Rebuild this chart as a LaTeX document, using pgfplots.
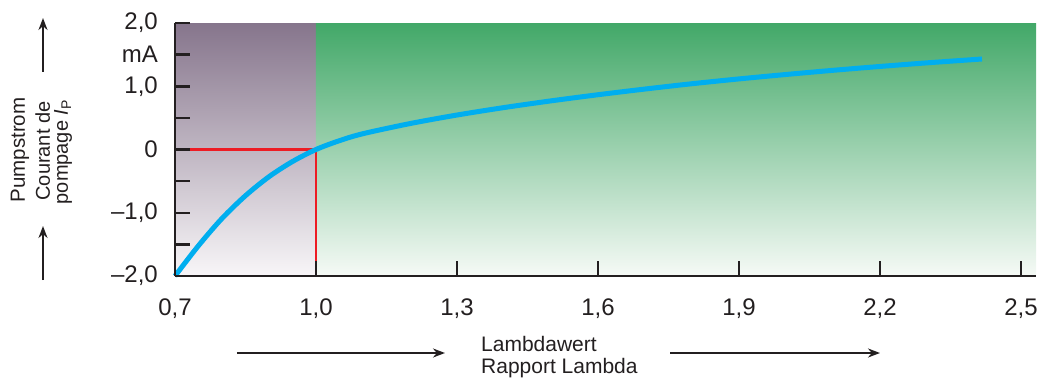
\documentclass[border=0pt]{standalone}
\usepackage{fontspec}
\setmainfont{Liberation Sans}
\usepackage{pgfplots}
\pgfplotsset{compat=1.18}
\usetikzlibrary{arrows.meta}
\definecolor{axcol}{RGB}{35,31,32}
\definecolor{curvecol}{RGB}{0,174,239}
\definecolor{redcol}{RGB}{237,28,36}
\definecolor{ptop}{RGB}{134,117,140}
\definecolor{pmid}{RGB}{195,175,198}
\definecolor{pbot}{RGB}{248,246,248}
\definecolor{gtop}{RGB}{66,168,104}
\definecolor{gmid}{RGB}{155,202,158}
\definecolor{gbot}{RGB}{246,250,246}
\begin{document}
\begin{tikzpicture}
\useasboundingbox (-175pt,-102pt) rectangle (862pt,276pt);
\begin{axis}[
  at={(0pt,0pt)}, anchor=south west,
  scale only axis, width=861pt, height=253pt,
  xmin=0.7, xmax=2.532, ymin=-2, ymax=2,
  enlargelimits=false, clip=false,
  axis x line*=bottom, axis y line*=left,
  axis on top,
  tick align=inside,
  major tick length=15pt,
  tick style={line width=2.5pt, color=axcol},
  axis line style={line width=2.5pt, color=axcol},
  xtick={0.7,1.0,1.3,1.6,1.9,2.2,2.5},
  xticklabels={{0,7},{1,0},{1,3},{1,6},{1,9},{2,2},{2,5}},
  ytick={-2,-1.5,-1,-0.5,0,0.5,1,1.5,2},
  yticklabels={{–2,0},{},{–1,0},{},{0},{},{1,0},{mA},{2,0}},
  ticklabel style={font=\fontsize{24}{28}\selectfont, text=axcol},
  xticklabel style={anchor=base, yshift=-39pt},
  yticklabel style={anchor=east, inner sep=0pt, xshift=-17pt},
]
\addplot[draw=none, top color=ptop, middle color=pmid, bottom color=pbot]
  coordinates {(0.7,-2) (1.0,-2) (1.0,2) (0.7,2)} -- cycle;
\addplot[draw=none, top color=gtop, middle color=gmid, bottom color=gbot]
  coordinates {(1.0,-2) (2.532,-2) (2.532,2) (1.0,2)} -- cycle;
\addplot[redcol, line width=2.5pt] coordinates {(0.7,0) (1.0,0) (1.0,-2)};
\addplot[curvecol, line width=5pt, smooth, line cap=butt] coordinates {
(0.70,-2.00) (0.75,-1.52) (0.80,-1.09) (0.85,-0.73) (0.90,-0.43) (0.95,-0.19)
(1.00,0.00) (1.05,0.14) (1.10,0.25) (1.20,0.41) (1.30,0.545) (1.40,0.663)
(1.50,0.769) (1.60,0.866) (1.70,0.956) (1.80,1.04) (1.90,1.116) (2.00,1.186)
(2.10,1.252) (2.20,1.313) (2.30,1.37) (2.417,1.431)};
\end{axis}
% y label
\node[rotate=90, anchor=base, font=\fontsize{20.5}{24}\selectfont, text=axcol] at (-150pt,126pt) {Pumpstrom};
\node[rotate=90, anchor=base, font=\fontsize{20}{24}\selectfont, text=axcol] at (-125pt,125pt) {Courant de};
\node[rotate=90, anchor=base, font=\fontsize{20}{24}\selectfont, text=axcol] at (-107pt,124pt) {pompage \textit{I}\textsubscript{P}};
\draw[axcol, line width=2pt, -{Stealth[length=12pt, width=9pt]}] (-132pt,204pt) -- (-132pt,258pt);
\draw[axcol, line width=2pt, -{Stealth[length=12pt, width=9pt]}] (-132pt,-4pt) -- (-132pt,50pt);
% x label
\node[anchor=base west, inner sep=0pt, font=\fontsize{21}{24}\selectfont, text=axcol] at (306pt,-75pt) {Lambdawert};
\node[anchor=base west, inner sep=0pt, font=\fontsize{21}{24}\selectfont, text=axcol] at (306pt,-97pt) {Rapport Lambda};
\draw[axcol, line width=2pt, -{Stealth[length=12pt, width=9pt]}] (62pt,-77pt) -- (270pt,-77pt);
\draw[axcol, line width=2pt, -{Stealth[length=12pt, width=9pt]}] (495pt,-77pt) -- (705pt,-77pt);
\end{tikzpicture}
\end{document}
